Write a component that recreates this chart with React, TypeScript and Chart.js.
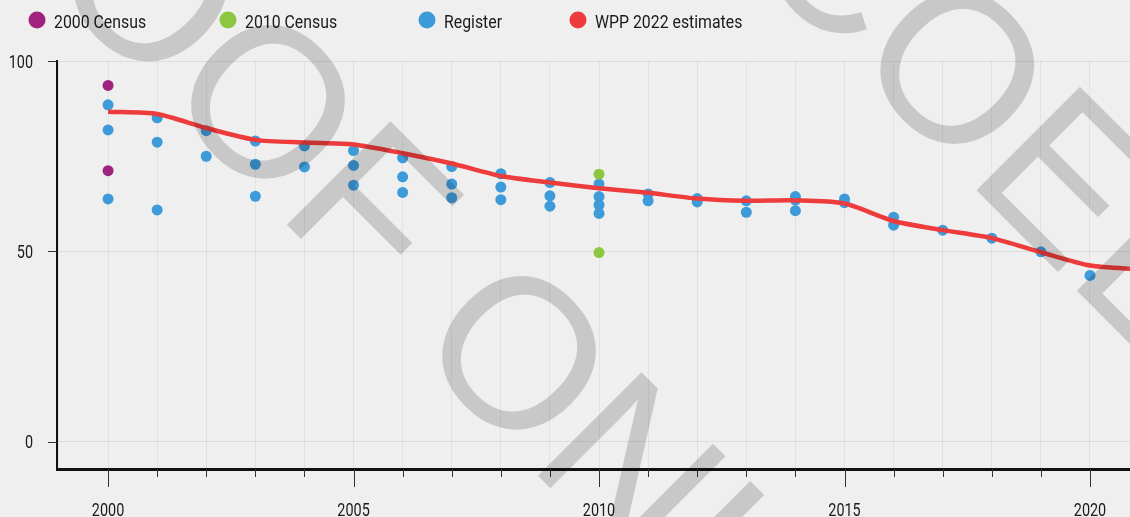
import { useEffect, useRef } from "react";
import { Chart, registerables } from "chart.js";

Chart.register(...registerables);

const WPP_YEARS = [2000, 2001, 2002, 2003, 2004, 2005, 2006, 2007, 2008, 2009, 2010, 2011, 2012, 2013, 2014, 2015, 2016, 2017, 2018, 2019, 2020, 2021];
const WPP_VALUES = [86.7, 86.1, 82.4, 79.3, 78.6, 78.1, 75.8, 73.1, 69.8, 68.1, 66.6, 65.4, 63.9, 63.3, 63.4, 62.6, 58.0, 55.6, 53.5, 49.8, 46.3, 45.3];

const REGISTER_YEARS = [
  2000, 2000, 2000,
  2001, 2001, 2001,
  2002, 2002,
  2003, 2003, 2003,
  2004, 2004,
  2005, 2005, 2005,
  2006, 2006, 2006,
  2007, 2007, 2007,
  2008, 2008, 2008,
  2009, 2009, 2009,
  2010, 2010, 2010, 2010,
  2011, 2011,
  2012, 2012,
  2013, 2013,
  2014, 2014, 2014,
  2015, 2015,
  2016, 2016,
  2017,
  2018,
  2019,
  2020,
];
const REGISTER_VALUES = [
  88.5, 81.9, 63.8,
  85.1, 78.7, 60.9,
  81.7, 75.0,
  79.0, 72.9, 64.5,
  77.7, 72.2,
  76.5, 72.6, 67.4,
  74.6, 69.6, 65.5,
  72.3, 67.7, 64.1,
  70.4, 66.9, 63.6,
  68.1, 64.6, 61.9,
  67.7, 64.4, 62.2, 60.0,
  65.1, 63.3,
  63.9, 63.0,
  63.3, 60.3,
  64.4, 63.5, 60.7,
  63.8, 62.8,
  59.0, 56.9,
  55.6,
  53.5,
  49.9,
  43.7,
];

const CENSUS2000_YEARS = [2000, 2000];
const CENSUS2000_VALUES = [93.6, 71.2];
const CENSUS2010_YEARS = [2010, 2010];
const CENSUS2010_VALUES = [70.3, 49.7];

const X_TICKS = [1999, 2000, 2001, 2002, 2003, 2004, 2005, 2006, 2007, 2008, 2009, 2010, 2011, 2012, 2013, 2014, 2015, 2016, 2017, 2018, 2019, 2020];
const X_LABELED = [2000, 2005, 2010, 2015, 2020];
const Y_TICKS = [0, 50, 100];

const LEGEND_LABELS = ["2000 Census", "2010 Census", "Register", "WPP 2022 estimates"];
const COLOR_2000 = "#a0227f";
const COLOR_2010 = "#8dc63f";
const COLOR_REGISTER = "#3e9bd9";
const COLOR_WPP = "#ee3b3b";
const LEGEND_COLORS = [COLOR_2000, COLOR_2010, COLOR_REGISTER, COLOR_WPP];

const FONT = "Roboto, 'Liberation Sans', sans-serif";
const TEXT_COLOR = "#1a1a1a";
const WIDTH = 1130;
const HEIGHT = 517;

const toPoints = (xs: number[], ys: number[]) => xs.map((x, i) => ({ x, y: ys[i] }));

// draw condensed text (horizontal squeeze) to mimic the condensed face of the original
function condensedText(ctx: CanvasRenderingContext2D, text: string, x: number, y: number, align: CanvasTextAlign, squeeze: number) {
  ctx.save();
  ctx.translate(x, y);
  ctx.scale(squeeze, 1);
  ctx.textAlign = align;
  ctx.fillText(text, 0, 0);
  ctx.restore();
}

const backgroundPlugin = {
  id: "bg",
  beforeDraw(chart: any) {
    const { ctx, width, height } = chart;
    ctx.save();
    ctx.fillStyle = "#efefef";
    ctx.fillRect(0, 0, width, height);
    ctx.restore();
  },
};

const axisDecorPlugin = {
  id: "axisDecor",
  afterDraw(chart: any) {
    const { ctx } = chart;
    const xs = chart.scales.x;
    const ys = chart.scales.y;
    const { bottom, left } = chart.chartArea;
    ctx.save();
    ctx.strokeStyle = "#333";
    ctx.lineWidth = 1;
    X_TICKS.forEach((v) => {
      if (v < X_LABELED[0]) return;
      const px = Math.round(xs.getPixelForValue(v)) + 0.5;
      const len = X_LABELED.includes(v) ? 18 : 8;
      ctx.beginPath();
      ctx.moveTo(px, bottom);
      ctx.lineTo(px, bottom + len);
      ctx.stroke();
    });
    Y_TICKS.forEach((v) => {
      const py = Math.round(ys.getPixelForValue(v)) + 0.5;
      ctx.beginPath();
      ctx.moveTo(left - 9, py);
      ctx.lineTo(left, py);
      ctx.stroke();
    });
    ctx.fillStyle = TEXT_COLOR;
    ctx.font = `18px ${FONT}`;
    ctx.textBaseline = "alphabetic";
    X_LABELED.forEach((v) => {
      const px = xs.getPixelForValue(v);
      condensedText(ctx, String(v), px, bottom + 47, "center", 0.8);
    });
    Y_TICKS.forEach((v) => {
      const py = ys.getPixelForValue(v);
      condensedText(ctx, String(v), left - 24, py + 6.5, "right", 0.8);
    });
    ctx.restore();
  },
};

const legendPlugin = {
  id: "customLegend",
  afterDraw(chart: any) {
    const { ctx } = chart;
    const xs = [37, 228, 427, 578];
    ctx.save();
    ctx.font = `18px ${FONT}`;
    ctx.textBaseline = "alphabetic";
    LEGEND_LABELS.forEach((label, i) => {
      ctx.fillStyle = LEGEND_COLORS[i];
      ctx.beginPath();
      ctx.arc(xs[i], 20, 8.5, 0, Math.PI * 2);
      ctx.fill();
      ctx.fillStyle = TEXT_COLOR;
      condensedText(ctx, label, xs[i] + 17, 28, "left", 0.88);
    });
    ctx.restore();
  },
};

const watermarkPlugin = {
  id: "watermark",
  afterDraw(chart: any) {
    const { ctx } = chart;
    ctx.save();
    ctx.fillStyle = "rgba(0,0,0,0.16)";
    ctx.font = "213px 'Liberation Sans', Arial, sans-serif";
    ctx.textBaseline = "alphabetic";
    ctx.textAlign = "left";
    const marks: [string, number, number][] = [
      ["PROOF ONLY", -169, -231],
      ["COEL", 738, -48],
    ];
    marks.forEach(([text, ox, oy]) => {
      ctx.save();
      ctx.translate(ox, oy);
      ctx.rotate(Math.PI / 4);
      ctx.fillText(text, 0, 0);
      ctx.restore();
    });
    ctx.restore();
  },
};

export default function App() {
  const canvasRef = useRef<HTMLCanvasElement | null>(null);

  useEffect(() => {
    document.body.style.margin = "0";
    const canvas = canvasRef.current;
    if (!canvas) return;
    const chart = new Chart(canvas, {
      type: "scatter",
      data: {
        datasets: [
          {
            label: LEGEND_LABELS[3],
            type: "line",
            data: toPoints(WPP_YEARS, WPP_VALUES),
            borderColor: COLOR_WPP,
            backgroundColor: COLOR_WPP,
            borderWidth: 4.5,
            pointRadius: 0,
            tension: 0.25,
            fill: false,
            order: 0,
          } as any,
          {
            label: LEGEND_LABELS[0],
            data: toPoints(CENSUS2000_YEARS, CENSUS2000_VALUES),
            backgroundColor: COLOR_2000,
            borderColor: COLOR_2000,
            borderWidth: 0,
            pointRadius: 5.5,
            order: 1,
          },
          {
            label: LEGEND_LABELS[1],
            data: toPoints(CENSUS2010_YEARS, CENSUS2010_VALUES),
            backgroundColor: COLOR_2010,
            borderColor: COLOR_2010,
            borderWidth: 0,
            pointRadius: 5.5,
            order: 1,
          },
          {
            label: LEGEND_LABELS[2],
            data: toPoints(REGISTER_YEARS, REGISTER_VALUES),
            backgroundColor: COLOR_REGISTER,
            borderColor: COLOR_REGISTER,
            borderWidth: 0,
            pointRadius: 5.5,
            order: 2,
          },
        ],
      },
      options: {
        responsive: false,
        maintainAspectRatio: false,
        devicePixelRatio: 1,
        animation: false,
        layout: { autoPadding: false, padding: { top: 61, right: 0, bottom: 0, left: 0 } },
        plugins: {
          legend: { display: false },
          tooltip: { enabled: false },
        },
        scales: {
          x: {
            type: "linear",
            min: 1998.96,
            max: 2020.815,
            afterBuildTicks: (scale: any) => {
              scale.ticks = X_TICKS.map((v) => ({ value: v }));
            },
            afterFit: (scale: any) => {
              scale.height = 48;
            },
            grid: {
              color: "rgba(0,0,0,0.05)",
              drawTicks: false,
            },
            border: { display: true, color: "#111", width: 3 },
            ticks: { display: false },
          },
          y: {
            type: "linear",
            min: -7.1,
            max: 100,
            afterBuildTicks: (scale: any) => {
              scale.ticks = Y_TICKS.map((v) => ({ value: v }));
            },
            afterFit: (scale: any) => {
              scale.width = 57;
            },
            grid: {
              color: "rgba(0,0,0,0.07)",
              drawTicks: false,
            },
            border: { display: true, color: "#111", width: 2 },
            ticks: { display: false },
          },
        },
      },
      plugins: [backgroundPlugin, axisDecorPlugin, legendPlugin, watermarkPlugin],
    });
    return () => chart.destroy();
  }, []);

  return (
    <div style={{ width: WIDTH, height: HEIGHT, position: "relative" }}>
      <canvas ref={canvasRef} width={WIDTH} height={HEIGHT} style={{ display: "block" }} />
    </div>
  );
}
